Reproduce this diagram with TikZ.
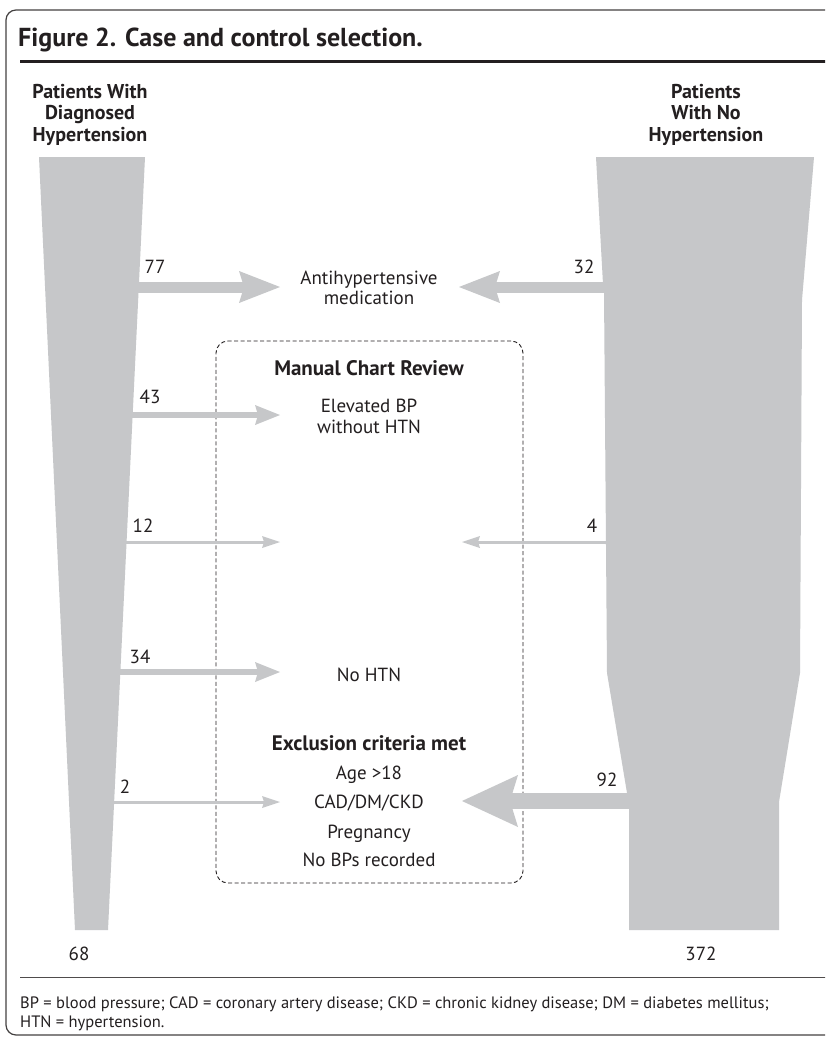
\documentclass[tikz,border=0pt]{standalone}
\usepackage{fontspec}
\setmainfont{PT Sans}
\usetikzlibrary{arrows.meta}
\definecolor{fgray}{HTML}{C6C7C9}
\definecolor{ink}{HTML}{231F20}
\begin{document}
\begin{tikzpicture}[x=1pt,y=-1pt,
  txt/.style={font=\fontsize{19}{21}\selectfont, text=ink, inner sep=0pt, anchor=base},
  hdr/.style={font=\bfseries\fontsize{20}{22}\selectfont, text=ink, inner sep=0pt, anchor=base},
  boxtitle/.style={font=\bfseries\fontsize{21}{23}\selectfont, text=ink, inner sep=0pt, anchor=base},
  captxt/.style={font=\fontsize{16.5}{19}\selectfont, text=ink, inner sep=0pt, anchor=base west},
  bigarrow/.style={draw=fgray, line width=11pt, -{Stealth[length=41pt,width=32pt,inset=5pt,line width=0pt]}},
  hugearrow/.style={draw=fgray, line width=16pt, -{Stealth[length=56pt,width=52pt,inset=8pt,line width=0pt]}},
  midarrow/.style={draw=fgray, line width=6pt, -{Stealth[length=25pt,width=20pt,inset=3pt,line width=0pt]}},
  thinarrow/.style={draw=fgray, line width=3pt, -{Stealth[length=18pt,width=12pt,inset=2pt,line width=0pt]}},
  reviewbox/.style={draw=ink, line width=0.9pt, dash pattern=on 4pt off 2.5pt, rounded corners=12pt, minimum width=307pt, minimum height=542pt, inner sep=0pt}
]
\useasboundingbox (0,0) rectangle (825,1038);
\clip (0,0) rectangle (825,1038);
\fill[white] (0,0) rectangle (825,1038);

% frame
\draw[draw=ink!85, line width=1.2pt, rounded corners=10pt] (860,10) -- (6,10) -- (6,1035) -- (860,1035);

% title and rules
\node[anchor=base west, font=\bfseries\fontsize{26}{30}\selectfont, text=ink, inner sep=0pt] (title) at (18,47) {Figure 2. Case and control selection.};
\draw[ink, line width=3pt] (20,62) -- (840,62);
\draw[ink!80, line width=1pt] (20,977) -- (840,977);

% headers
\node[hdr] (hl1) at (90,99) {Patients With};
\node[hdr] (hl2) at (90,120) {Diagnosed};
\node[hdr] (hl3) at (90,141) {Hypertension};
\node[hdr] (hr1) at (706,99) {Patients};
\node[hdr] (hr2) at (706,120) {With No};
\node[hdr] (hr3) at (706,141) {Hypertension};

% funnels
\fill[fgray] (39,157) -- (145,157) -- (108,930) -- (75,930) -- cycle;
\fill[fgray] (596,157) -- (814,157) -- (802,300) -- (800,673) -- (779,802) -- (779,930)
  -- (629,930) -- (629,809) -- (627,793) -- (607,673) -- (604,292) -- (603,284) -- cycle;

% review box
\node[reviewbox] (review) at (369.5,612) {};

% center texts
\node[txt] (anti1) at (369,284) {Antihypertensive};
\node[txt] (anti2) at (369,304) {medication};
\node[boxtitle] (mcr) at (369,375) {Manual Chart Review};
\node[txt] (elev1) at (369,412) {Elevated BP};
\node[txt] (elev2) at (369,433) {without HTN};
\node[txt] (nohtn) at (369,681) {No HTN};
\node[boxtitle] (excl) at (369,750) {Exclusion criteria met};
\node[txt] (ex1) at (369,779) {Age >18};
\node[txt] (ex2) at (369,808) {CAD/DM/CKD};
\node[txt] (ex3) at (369,838) {Pregnancy};
\node[txt] (ex4) at (369,866) {No BPs recorded};

% arrow endpoints
\coordinate (s77) at (136,287);  \coordinate (e77) at (280,287);
\coordinate (s43) at (130,415);  \coordinate (e43) at (280,415);
\coordinate (s12) at (124,542);  \coordinate (e12) at (280,542);
\coordinate (s34) at (118,672);  \coordinate (e34) at (280,672);
\coordinate (s2)  at (112,802);  \coordinate (e2)  at (280,802);
\coordinate (s32) at (607,287);  \coordinate (e32) at (459,287);
\coordinate (s4)  at (611,542);  \coordinate (e4)  at (462,542);
\coordinate (s92) at (633,801);  \coordinate (e92) at (462,801);

\draw[bigarrow] (s77) -- (e77);
\draw[bigarrow] (s32) -- (e32);
\draw[midarrow] (s43) -- (e43);
\draw[midarrow] (s34) -- (e34);
\draw[thinarrow] (s12) -- (e12);
\draw[thinarrow] (s2) -- (e2);
\draw[thinarrow] (s4) -- (e4);
\draw[hugearrow] (s92) -- (e92);

% numbers
\node[txt] (n77) at (155,273) {77};
\node[txt] (n32) at (584,273) {32};
\node[txt] (n43) at (150,403) {43};
\node[txt] (n12) at (143,532) {12};
\node[txt] (n4) at (592,532) {4};
\node[txt] (n34) at (140,663) {34};
\node[txt] (n2) at (125,793) {2};
\node[txt] (n92) at (607,786) {92};
\node[txt] (n68) at (79,960) {68};
\node[txt] (n372) at (701,960) {372};

% caption
\node[captxt] (cap1) at (20,1008) {BP = blood pressure; CAD = coronary artery disease; CKD = chronic kidney disease; DM = diabetes mellitus;};
\node[captxt] (cap2) at (20,1027) {HTN = hypertension.};
\end{tikzpicture}
\end{document}
